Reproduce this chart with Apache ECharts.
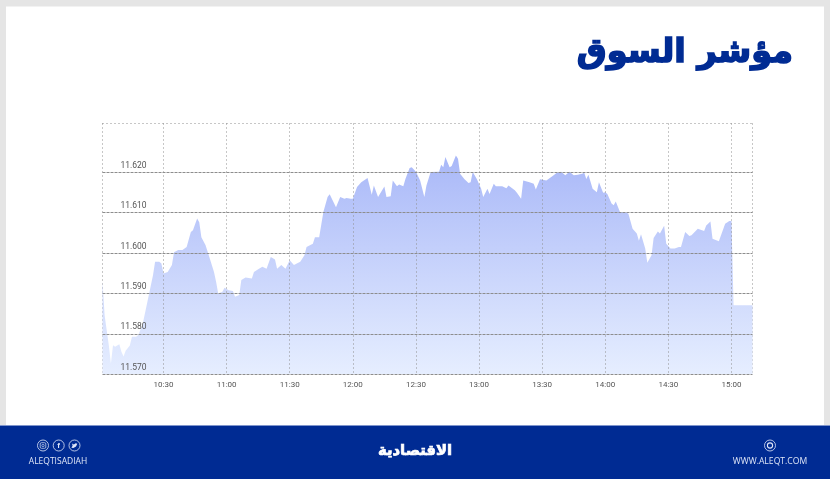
<!DOCTYPE html>
<html><head><meta charset="utf-8">
<style>html,body{margin:0;padding:0;background:#fff}#c{width:830px;height:479px}</style>
<script src="https://cdn.jsdelivr.net/npm/echarts@6/dist/echarts.min.js"></script>
</head><body><div id="c"></div>
<script>
// minutes after 10:00 at which the curve was read
const minutes = [1,2,4,5,6,7,9,10,11,12,14,15,17,18,20,22,24,25,26,28,29,30,32,34,35,37,39,41,43,44,46,47,48,50,52,54,55,56,58,59,61,63,64,66,67,69,72,73,75,77,79,81,83,84,86,88,90,92,95,97,98,101,102,104,106,108,109,112,114,116,117,119,120,122,124,127,129,130,132,135,136,138,139,141,142,144,145,147,148,150,152,154,155,157,161,162,163,164,166,167,169,170,171,173,175,176,177,179,181,182,184,185,187,188,191,193,194,197,198,200,201,204,206,207,209,212,215,217,219,221,223,225,227,229,230,231,232,234,236,237,239,240,241,243,244,245,247,250,251,253,255,256,257,259,260,262,263,265,266,268,269,271,273,275,276,278,280,281,284,287,288,290,291,294,297,299,300,301,310];
const indexValues = [11.5929,11.5846,11.5772,11.5727,11.5772,11.5768,11.5774,11.5756,11.5744,11.5758,11.5771,11.5793,11.5793,11.5797,11.5822,11.5871,11.5920,11.5945,11.5978,11.5978,11.5974,11.5949,11.5953,11.5970,11.6002,11.6007,11.6007,11.6015,11.6052,11.6056,11.6085,11.6076,11.6039,11.6019,11.5986,11.5953,11.5929,11.5900,11.5904,11.5914,11.5908,11.5906,11.5892,11.5896,11.5933,11.5939,11.5937,11.5953,11.5960,11.5966,11.5961,11.5990,11.5984,11.5961,11.5970,11.5961,11.5982,11.5970,11.5978,11.5994,11.6015,11.6023,11.6039,11.6039,11.6101,11.6138,11.6145,11.6113,11.6138,11.6134,11.6136,11.6134,11.6134,11.6163,11.6175,11.6185,11.6144,11.6167,11.6138,11.6164,11.6138,11.6140,11.6179,11.6165,11.6169,11.6165,11.6183,11.6210,11.6212,11.6201,11.6179,11.6138,11.6167,11.6200,11.6201,11.6218,11.6212,11.6237,11.6212,11.6215,11.6241,11.6233,11.6196,11.6183,11.6173,11.6175,11.6200,11.6182,11.6159,11.6138,11.6159,11.6146,11.6171,11.6165,11.6165,11.6160,11.6167,11.6155,11.6149,11.6134,11.6179,11.6175,11.6171,11.6157,11.6182,11.6179,11.6190,11.6198,11.6201,11.6192,11.6201,11.6192,11.6193,11.6196,11.6198,11.6183,11.6193,11.6159,11.6150,11.6175,11.6149,11.6150,11.6146,11.6122,11.6118,11.6127,11.6101,11.6100,11.6097,11.6060,11.6048,11.6030,11.6046,11.6011,11.5976,11.5994,11.6037,11.6053,11.6048,11.6067,11.6023,11.6011,11.6011,11.6015,11.6015,11.6052,11.6042,11.6044,11.6060,11.6054,11.6068,11.6078,11.6035,11.6029,11.6072,11.6079,11.6079,11.5871,11.5871];
const yTicks = [11.57,11.58,11.59,11.60,11.61,11.62];
const titleText = 'مؤشر السوق';
const brandText = 'الاقتصادية';
const handleText = 'ALEQTISADIAH';
const siteText = 'WWW.ALEQT.COM';

const pad = n => String(n).padStart(2, '0');
const minuteLabel = m => pad(10 + Math.floor(m / 60)) + ':' + pad(m % 60);
const firstMinute = 1, lastMinute = 310;
const categories = [];
for (let m = firstMinute; m <= lastMinute; m++) categories.push(minuteLabel(m));
const seriesData = minutes.map((m, i) => [minuteLabel(m), indexValues[i]]);
const onHalfHour = (i, v) => v.endsWith(':00') || v.endsWith(':30');

const navy = '#002b93';
const pale = '#dfe6f7';
const grid = {left: 102.5, right: 77.5, top: 123.5, bottom: 104.7};
const chart = echarts.init(document.getElementById('c'), null, {renderer: 'canvas'});

const ring = (cx, cy, fill) => ({type:'circle', shape:{cx, cy, r:5.5}, style:{fill:fill || 'transparent', stroke:pale, lineWidth:0.8}, silent:true});

chart.setOption({
  animation:false,
  backgroundColor:'#ffffff',
  grid:{...grid, containLabel:false},
  xAxis:{
    type:'category', data:categories, boundaryGap:false, z:3,
    axisLine:{show:false},
    axisTick:{show:false},
    axisLabel:{interval:onHalfHour, color:'#555', fontSize:8, fontFamily:'Roboto', margin:7, hideOverlap:false},
    splitLine:{show:true, interval:onHalfHour, lineStyle:{color:'#8f8f8f', type:[1,3], width:1}}
  },
  yAxis:{
    type:'value', min:11.57, max:11.632, z:3,
    axisLine:{show:false},
    axisTick:{show:false, customValues:yTicks},
    axisLabel:{inside:true, customValues:yTicks, color:'#555', fontSize:8.5, fontFamily:'Roboto', margin:18, verticalAlign:'bottom', padding:[0,0,2,0], formatter:v => v.toFixed(3)},
    splitLine:{show:true, lineStyle:{color:'#8d8d8d', type:[3,1], width:1}}
  },
  series:[{
    type:'line', data:seriesData, showSymbol:false, z:1,
    lineStyle:{width:0}, connectNulls:true,
    areaStyle:{opacity:1, color:new echarts.graphic.LinearGradient(0,0,0,1,[{offset:0,color:'#a9b8f8'},{offset:1,color:'#e6eeff'}])}
  }],
  graphic:[
    {type:'rect', shape:{x:0,y:0,width:830,height:6.5}, style:{fill:'#e5e5e5'}, silent:true},
    {type:'rect', shape:{x:0,y:0,width:6,height:425}, style:{fill:'#e5e5e5'}, silent:true},
    {type:'rect', shape:{x:824,y:0,width:6,height:425}, style:{fill:'#e5e5e5'}, silent:true},
    {type:'rect', shape:{x:0,y:426,width:830,height:53}, style:{fill:navy}, silent:true},
    {type:'rect', shape:{x:0,y:425,width:830,height:1}, style:{fill:'#7f95cc'}, silent:true},
    {type:'line', shape:{x1:102.5,y1:123.5,x2:752.5,y2:123.5}, style:{stroke:'#8f8f8f', lineDash:[1,3]}, silent:true},
    {type:'line', shape:{x1:102.5,y1:123.5,x2:102.5,y2:374.3}, style:{stroke:'#8f8f8f', lineDash:[1,3]}, silent:true},
    {type:'line', shape:{x1:752.5,y1:123.5,x2:752.5,y2:374.3}, style:{stroke:'#8f8f8f', lineDash:[1,3]}, silent:true},
    {type:'text', x:793, y:53, style:{text:titleText, fill:navy, stroke:navy, lineWidth:1.6, font:'bold 33.5px "DejaVu Sans"', align:'right', verticalAlign:'middle'}, silent:true},
    {type:'text', x:415, y:451, style:{text:brandText, fill:'#ffffff', stroke:'#ffffff', lineWidth:0.7, font:'bold 14.8px "DejaVu Sans"', align:'center', verticalAlign:'middle'}, silent:true},
    {type:'text', x:58, y:462, style:{text:handleText, fill:pale, font:'8.5px "Open Sans"', align:'center', verticalAlign:'middle'}, silent:true},
    {type:'text', x:770, y:462, style:{text:siteText, fill:pale, font:'8.6px "Open Sans"', align:'center', verticalAlign:'middle'}, silent:true},
    ring(43,445.5),
    {type:'rect', shape:{x:40.2,y:442.7,width:5.6,height:5.6,r:1.2}, style:{fill:'transparent', stroke:pale, lineWidth:0.7}, silent:true},
    {type:'circle', shape:{cx:43,cy:445.5,r:1.2}, style:{fill:'transparent', stroke:pale, lineWidth:0.6}, silent:true},
    ring(58.7,445.5),
    {type:'text', x:58.7, y:445.7, style:{text:'f', fill:pale, font:'bold 8px "Liberation Sans"', align:'center', verticalAlign:'middle'}, silent:true},
    ring(74.5,445.5),
    {type:'polygon', shape:{points:[[71.4,447.7],[73.4,447.9],[76,446.6],[77.3,443.8],[75.7,443.2],[73.9,444.6],[72,443.6],[72.6,445.8]]}, style:{fill:pale}, silent:true},
    ring(770,445.5),
    {type:'circle', shape:{cx:770,cy:445.5,r:2.6}, style:{fill:'transparent', stroke:pale, lineWidth:1.1}, silent:true}
  ]
});
</script></body></html>
